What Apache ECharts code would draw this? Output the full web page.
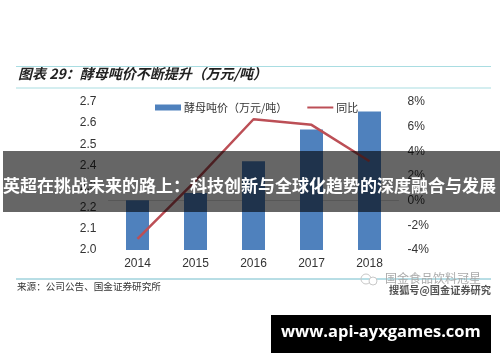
<!DOCTYPE html>
<html><head><meta charset="utf-8">
<style>html,body{margin:0;padding:0;background:#fff}#c{width:500px;height:362px}</style>
<script src="https://cdn.jsdelivr.net/npm/echarts@6/dist/echarts.min.js"></script>
</head><body><div id="c"></div>
<script>
const categories = ['2014','2015','2016','2017','2018'];
const priceValues = [2.235, 2.27, 2.42, 2.57, 2.655];
const yoyValues = [-3.1, 1.6, 6.6, 6.15, 3.2];
const seriesNames = ['酵母吨价（万元/吨）', '同比'];
const titleText = '图表 29：酵母吨价不断提升（万元/吨）';
const sourceText = '来源：公司公告、国金证券研究所';
const bannerText = '英超在挑战未来的路上：科技创新与全球化趋势的深度融合与发展';
const siteText = 'www.api-ayxgames.com';
const markTop = '国金食品饮料冠星';
const markBottom = '搜狐号@国金证券研究';
const cjk = '"Noto Sans CJK SC","Liberation Sans",sans-serif';
const latin = '"Liberation Sans",Arial,sans-serif';
const hline = (y, color, w) => ({type:'line', shape:{x1:16,y1:y,x2:491,y2:y}, style:{stroke:color,lineWidth:w}, z:1});
const chart = echarts.init(document.getElementById('c'), null, {renderer:'canvas'});
chart.setOption({
  animation:false,
  backgroundColor:'#fff',
  grid:{left:108.5,right:101.5,top:102,bottom:112},
  legend:{
    show:true, top:97, left:150, itemWidth:26, itemHeight:6, itemGap:19,
    textStyle:{fontFamily:cjk,fontSize:11,color:'#333',padding:[0,0,0,-2]},
    data:[{name:seriesNames[0],icon:'rect'},{name:seriesNames[1],itemStyle:{opacity:0}}]
  },
  xAxis:{type:'category',data:categories,
    axisLine:{lineStyle:{color:'#d9d9d9',width:1}},axisTick:{show:false},
    axisLabel:{margin:8,fontFamily:latin,fontSize:12,color:'#333'}},
  yAxis:[
    {type:'value',min:2.0,max:2.7,interval:0.1,splitLine:{show:false},axisLine:{show:false},axisTick:{show:false},
     axisLabel:{margin:12,fontFamily:latin,fontSize:12,color:'#333',formatter:v=>v.toFixed(1)}},
    {type:'value',min:-4,max:8,interval:2,position:'right',splitLine:{show:false},axisLine:{show:false},axisTick:{show:false},
     axisLabel:{margin:9,fontFamily:latin,fontSize:12,color:'#333',formatter:v=>v+'%'}}
  ],
  series:[
    {name:seriesNames[0],type:'bar',data:priceValues,barWidth:23,itemStyle:{color:'#4f81bd'},z:2},
    {name:seriesNames[1],type:'line',yAxisIndex:1,data:yoyValues,symbol:'none',
     lineStyle:{color:'#bc4f56',width:2.5},itemStyle:{color:'#bc4f56'},z:3}
  ],
  graphic:[
    hline(66.5,'#a9dde2',1.2), hline(88,'#a9dde2',1.2), hline(279,'#70bccb',1),
    {type:'text',left:18,top:67,z:5,style:{text:titleText,fontFamily:cjk,fontSize:14,fontWeight:'bold',fontStyle:'italic',fill:'#222'}},
    {type:'text',left:17,top:282,z:5,style:{text:sourceText,fontFamily:cjk,fontSize:9.6,fill:'#333'}},
    {type:'circle',shape:{cx:366,cy:279,r:5},style:{fill:'none',stroke:'#c8c8c8',lineWidth:1},z:5},
    {type:'circle',shape:{cx:373,cy:281,r:4},style:{fill:'#fff',stroke:'#c8c8c8',lineWidth:1},z:5},
    {type:'text',left:385,top:272,z:5,style:{text:markTop,fontFamily:cjk,fontSize:12,fill:'#aaa'}},
    {type:'text',left:389,top:285,z:6,style:{text:markBottom,fontFamily:cjk,fontSize:10.2,fontWeight:'bold',fill:'#555'}},
    {type:'rect',shape:{x:3,y:151,width:497,height:61},style:{fill:'rgba(0,0,0,0.6)'},z:20},
    {type:'text',left:3,top:177,z:21,style:{text:bannerText,fontFamily:cjk,fontSize:17,fontWeight:'bold',fill:'#fff'}},
    {type:'rect',shape:{x:271,y:315,width:220,height:38},style:{fill:'#000'},z:20},
    {type:'text',left:281,top:324,z:21,style:{text:siteText,fontFamily:'"Open Sans",sans-serif',fontSize:16.5,fontWeight:'bold',fill:'#fff'}}
  ]
});
</script></body></html>
